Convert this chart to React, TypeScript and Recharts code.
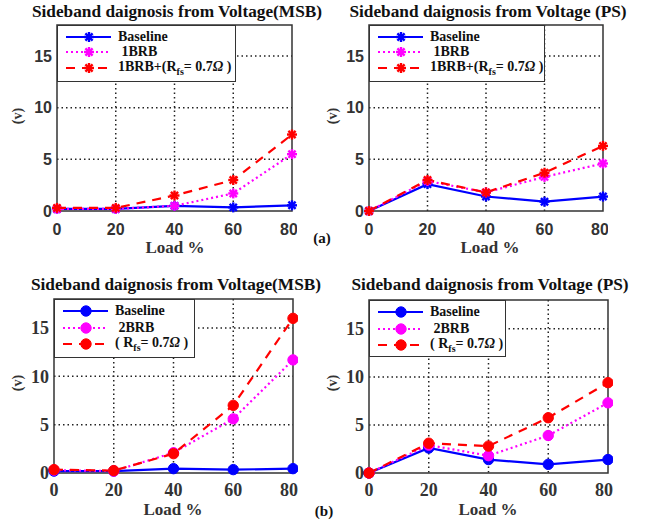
import React from "react"
import {
  LineChart, Line, XAxis, YAxis, CartesianGrid, ReferenceArea, Legend
} from "recharts"

// load points (x axis)
const loads = [0, 20, 40, 60, 80]
const yTicks = [0, 5, 10, 15]

// (a) 1 broken rotor bar
const msb1Baseline = [0.2, 0.2, 0.5, 0.35, 0.55]
const msb1Brb = [0.2, 0.2, 0.5, 1.7, 5.5]
const msb1Rfs = [0.3, 0.3, 1.5, 3.0, 7.4]

const ps1Baseline = [0, 2.6, 1.4, 0.9, 1.4]
const ps1Brb = [0, 2.9, 1.8, 3.3, 4.6]
const ps1Rfs = [0, 3.0, 1.8, 3.7, 6.3]

// (b) 2 broken rotor bars
const msb2Baseline = [0.2, 0.2, 0.45, 0.35, 0.45]
const msb2Brb = [0.3, 0.2, 2.1, 5.6, 11.7]
const msb2Rfs = [0.35, 0.25, 2.0, 7.0, 16.0]

const ps2Baseline = [0, 2.6, 1.4, 0.9, 1.4]
const ps2Brb = [0, 2.9, 1.8, 3.9, 7.3]
const ps2Rfs = [0, 3.1, 2.8, 5.75, 9.4]

const SERIF = '"Liberation Serif", "Times New Roman", serif'
const SANS = '"Liberation Sans", Arial, sans-serif'

const STYLES = [
  { key: "baseline", color: "#0000ff", dash: undefined, width: 2.2 },
  { key: "brb", color: "#ff00ff", dash: "2 3", width: 2.2 },
  { key: "rfs", color: "#ff0000", dash: "9 7", width: 2.2 },
]

function StarDot(props: any) {
  const { cx, cy, stroke, index } = props
  if (cx == null || cy == null) return null
  const r = 5
  const d = r * 0.72
  return (
    <g key={`star-${index}`} stroke={stroke} strokeWidth={2.4} strokeDasharray="none">
      <line x1={cx - r} y1={cy} x2={cx + r} y2={cy} />
      <line x1={cx} y1={cy - r} x2={cx} y2={cy + r} />
      <line x1={cx - d} y1={cy - d} x2={cx + d} y2={cy + d} />
      <line x1={cx - d} y1={cy + d} x2={cx + d} y2={cy - d} />
    </g>
  )
}

function CircleDot(props: any) {
  const { cx, cy, stroke, index } = props
  if (cx == null || cy == null) return null
  return <circle key={`c-${index}`} cx={cx} cy={cy} r={5.2} fill={stroke} stroke={stroke} strokeDasharray="none" />
}

function RfsLabel({ prefix }: { prefix: string }) {
  return (
    <span>
      {prefix}R<sub style={{ fontSize: 10, verticalAlign: -4 }}>fs</sub>= 0.7<i>Ω</i> )
    </span>
  )
}

const panels = [
  {
    title: "Sideband daignosis from Voltage(MSB)",
    values: [msb1Baseline, msb1Brb, msb1Rfs],
    names: ["Baseline", "1BRB", "1BRB+(Rfs = 0.7Ω )"],
    labels: [<span>Baseline</span>, <span>&nbsp;1BRB</span>, <RfsLabel prefix="1BRB+(" />],
    marker: "star",
    tickFont: SANS, tickSize: 16, xMargin: 13,
    left: 57, right: 292, top: 25, bottom: 211,
    legendW: 179, legendH: 57, rows: [11, 26, 42],
    titleX: 177, titleY: 12, loadX: 175, loadY: 248, vX: 18, vY: 116,
  },
  {
    title: "Sideband daignosis from Voltage (PS)",
    values: [ps1Baseline, ps1Brb, ps1Rfs],
    names: ["Baseline", "1BRB", "1BRB+(Rfs = 0.7Ω )"],
    labels: [<span>Baseline</span>, <span>&nbsp;1BRB</span>, <RfsLabel prefix="1BRB+(" />],
    marker: "star",
    tickFont: SANS, tickSize: 16, xMargin: 13,
    left: 369, right: 603, top: 25, bottom: 211,
    legendW: 176, legendH: 57, rows: [11, 26, 42],
    titleX: 488, titleY: 12, loadX: 490, loadY: 248, vX: 333, vY: 116,
  },
  {
    title: "Sideband daignosis from Voltage(MSB)",
    values: [msb2Baseline, msb2Brb, msb2Rfs],
    names: ["Baseline", "2BRB", "( Rfs = 0.7Ω )"],
    labels: [<span>Baseline</span>, <span>&nbsp;2BRB</span>, <RfsLabel prefix="( " />],
    marker: "circle",
    tickFont: SERIF, tickSize: 18, xMargin: 10,
    left: 54, right: 293, top: 299, bottom: 473,
    legendW: 141, legendH: 59, rows: [11, 28, 44],
    titleX: 176, titleY: 285, loadX: 173, loadY: 510, vX: 18, vY: 383,
  },
  {
    title: "Sideband daignosis from Voltage (PS)",
    values: [ps2Baseline, ps2Brb, ps2Rfs],
    names: ["Baseline", "2BRB", "( Rfs = 0.7Ω )"],
    labels: [<span>Baseline</span>, <span>&nbsp;2BRB</span>, <RfsLabel prefix="( " />],
    marker: "circle",
    tickFont: SERIF, tickSize: 18, xMargin: 10,
    left: 369, right: 608, top: 300, bottom: 473,
    legendW: 137, legendH: 57, rows: [11, 28, 44],
    titleX: 490, titleY: 285, loadX: 488, loadY: 510, vX: 333, vY: 383,
  },
]

const YW = 45
const PAD = 5

function Panel({ p }: { p: any }) {
  const data = loads.map((load, i) => ({
    load,
    baseline: p.values[0][i],
    brb: p.values[1][i],
    rfs: p.values[2][i],
  }))
  const w = p.right - p.left
  const h = p.bottom - p.top
  const Dot = p.marker === "star" ? StarDot : CircleDot

  const legendContent = () => (
    <div
      style={{
        width: p.legendW, height: p.legendH, boxSizing: "border-box",
        background: "#fff", border: "1.5px solid #333", position: "relative",
        fontFamily: SERIF, fontWeight: "bold", fontSize: 14, color: "#111",
      }}
    >
      {STYLES.map((s, i) => (
        <div key={s.key} style={{ position: "absolute", left: 0, top: p.rows[i] - 9, height: 18, display: "flex", alignItems: "center", whiteSpace: "nowrap" }}>
          <svg width={58} height={18}>
            <line x1={8} y1={9} x2={53} y2={9} stroke={s.color} strokeWidth={2.2} strokeDasharray={s.dash} />
            <Dot cx={31} cy={9} stroke={s.color} index={0} />
          </svg>
          <span style={{ marginLeft: 2 }}>{p.labels[i]}</span>
        </div>
      ))}
    </div>
  )

  return (
    <>
      <div style={{ position: "absolute", left: p.left - YW, top: p.top - PAD }}>
        <LineChart
          width={YW + w + PAD}
          height={PAD + h + 40}
          data={data}
          margin={{ top: PAD, right: PAD, left: 0, bottom: 0 }}
        >
          <CartesianGrid
            horizontalValues={[5, 10, 15]}
            verticalValues={[20, 40, 60]}
            stroke="#222"
            strokeWidth={1.5}
            strokeDasharray="1.5 3"
          />
          <XAxis
            dataKey="load" type="number" domain={[0, 80]} ticks={loads}
            height={40} axisLine={false} tickLine={false} tickSize={0} tickMargin={p.xMargin}
            tick={{ fill: "#333", fontFamily: p.tickFont, fontWeight: "bold", fontSize: p.tickSize }}
          />
          <YAxis
            type="number" domain={[0, 18]} ticks={yTicks} width={YW}
            axisLine={false} tickLine={false} tickSize={0} tickMargin={5}
            tick={{ fill: "#333", fontFamily: p.tickFont, fontWeight: "bold", fontSize: p.tickSize }}
          />
          <ReferenceArea x1={0} x2={80} y1={0} y2={18} fill="none" stroke="#333" strokeWidth={1.5} ifOverflow="visible" />
          {STYLES.map((s, i) => (
            <Line
              key={s.key}
              dataKey={s.key}
              name={p.names[i]}
              stroke={s.color}
              strokeWidth={s.width}
              strokeDasharray={s.dash}
              dot={Dot}
              activeDot={false}
              isAnimationActive={false}
            />
          ))}
          <Legend
            layout="vertical"
            align="center"
            verticalAlign="middle"
            content={legendContent}
            wrapperStyle={{ left: YW, top: PAD, width: p.legendW, height: p.legendH }}
          />
        </LineChart>
      </div>
      <div style={{ position: "absolute", left: p.titleX, top: p.titleY, transform: "translate(-50%, -50%)", whiteSpace: "nowrap", fontFamily: SERIF, fontWeight: "bold", fontSize: 17.3, color: "#111" }}>
        {p.title}
      </div>
      <div style={{ position: "absolute", left: p.loadX, top: p.loadY, transform: "translate(-50%, -50%)", whiteSpace: "nowrap", fontFamily: SERIF, fontWeight: "bold", fontSize: 17, color: "#333" }}>
        Load %
      </div>
      <div style={{ position: "absolute", left: p.vX, top: p.vY, transform: "translate(-50%, -50%) rotate(-90deg)", whiteSpace: "nowrap", fontFamily: SERIF, fontWeight: "bold", fontSize: 14, color: "#333" }}>
        (v)
      </div>
    </>
  )
}

export default function App() {
  return (
    <div style={{ position: "absolute", left: 0, top: 0, width: 647, height: 524, background: "#fff" }}>
      {panels.map((p, i) => <Panel key={i} p={p} />)}
      <div style={{ position: "absolute", left: 322, top: 238, transform: "translate(-50%, -50%)", fontFamily: SERIF, fontWeight: "bold", fontSize: 15, color: "#111" }}>(a)</div>
      <div style={{ position: "absolute", left: 324, top: 511, transform: "translate(-50%, -50%)", fontFamily: SERIF, fontWeight: "bold", fontSize: 15, color: "#111" }}>(b)</div>
    </div>
  )
}
